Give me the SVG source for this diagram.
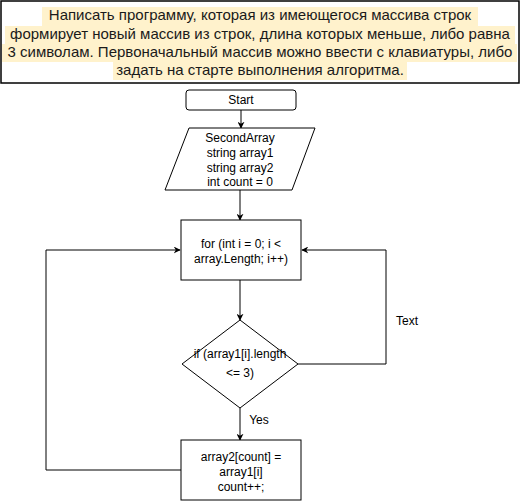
<svg xmlns="http://www.w3.org/2000/svg" width="521" height="501" viewBox="0 0 521 501">
<defs>
<style>
.n{fill:#fff;stroke:#000;stroke-width:1}
.t{font-family:"Liberation Sans",Arial,sans-serif;font-size:12px;fill:#000;text-anchor:middle}
.h{font-family:"Liberation Sans",Arial,sans-serif;font-size:15px;fill:#1a1a1a;text-anchor:middle}
.hl{fill:#fff2cc}
.c{fill:none;stroke:#000;stroke-width:1}
</style>
<marker id="a" viewBox="0 0 10 10" refX="9" refY="5" markerWidth="7" markerHeight="7" orient="auto" markerUnits="userSpaceOnUse">
<path d="M0,0 L10,5 L0,10 L3,5 Z" fill="#000"/>
</marker>
</defs>
<rect width="521" height="501" fill="#fff"/>
<g id="title">
<rect x="1" y="1" width="518" height="82" fill="#fff" stroke="#000" stroke-width="1.5"/>
<rect class="hl" x="42" y="7" width="436" height="19"/>
<rect class="hl" x="5" y="26" width="510" height="18"/>
<rect class="hl" x="2" y="44" width="515" height="18"/>
<rect class="hl" x="113" y="62" width="294" height="18"/>
<text class="h" x="260" y="20">Написать программу, которая из имеющегося массива строк</text>
<text class="h" x="260" y="38.5">формирует новый массив из строк, длина которых меньше, либо равна</text>
<text class="h" x="260" y="57">3 символам. Первоначальный массив можно ввести с клавиатуры, либо</text>
<text class="h" x="260" y="75">задать на старте выполнения алгоритма.</text>
</g>
<g id="connectors">
<path class="c" d="M241,110 V128" marker-end="url(#a)"/>
<path class="c" d="M240,190 V220" marker-end="url(#a)"/>
<path class="c" d="M240,280 V320" marker-end="url(#a)"/>
<path class="c" d="M240,408 V440" marker-end="url(#a)"/>
<path class="c" d="M298,364 H386 V250 H302" marker-end="url(#a)"/>
<path class="c" d="M181,470 H46 V250 H180" marker-end="url(#a)"/>
<text class="t" x="259" y="424">Yes</text>
<text class="t" x="407" y="325">Text</text>
</g>
<g id="start">
<rect class="n" x="186" y="90" width="110" height="20" rx="3"/>
<text class="t" x="241" y="104">Start</text>
</g>
<g id="input">
<polygon class="n" points="189,128 315,128 292,190 165,190"/>
<text class="t" x="240" y="142">SecondArray</text>
<text class="t" x="240" y="157">string array1</text>
<text class="t" x="240" y="172">string array2</text>
<text class="t" x="240" y="187" dy="-1">int count = 0</text>
</g>
<g id="loop">
<rect class="n" x="181" y="220" width="120" height="60"/>
<text class="t" x="241" y="248">for (int i = 0; i &lt;</text>
<text class="t" x="241" y="263">array.Length; i++)</text>
</g>
<g id="cond">
<polygon class="n" points="240,320 298,364 240,408 182,364"/>
<text class="t" x="240" y="358">if (array1[i].length</text>
<text class="t" x="240" y="377">&lt;= 3)</text>
</g>
<g id="assign">
<rect class="n" x="181" y="440" width="120" height="60"/>
<text class="t" x="241" y="461">array2[count] =</text>
<text class="t" x="241" y="476">array1[i]</text>
<text class="t" x="241" y="491">count++;</text>
</g>
</svg>
